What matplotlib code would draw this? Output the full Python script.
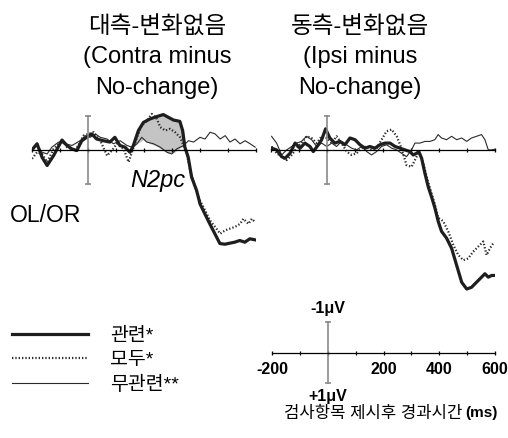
import matplotlib.pyplot as plt
import numpy as np

plt.rcParams['font.family'] = ['Liberation Sans', 'Noto Sans CJK KR', 'DejaVu Sans']

# 대측-변화없음 (Contra minus No-change), µV, 음전위가 위쪽
t_rel_c = np.array([-200, -182, -164, -146, -123, -93, -75, -58, -40, -22, -5, 13, 31, 55, 78, 96, 114, 132,
                    150, 162, 180, 198, 221, 245, 269, 287, 305, 328, 338, 346, 358, 370, 388, 400, 417,
                    435, 453, 471, 489, 506, 524, 542, 560, 578, 596])
rel_c = np.array([0, -0.18, 0.22, 0.46, 0.17, -0.29, -0.13, -0.03, 0.02, -0.27, -0.37, -0.47, -0.32, -0.27,
                  -0.23, -0.37, -0.13, -0.08, 0.07, -0.13, -0.57, -0.81, -0.91, -0.98, -1.04, -0.96, -0.88,
                  -0.84, -0.57, -0.08, 0.22, 0.80, 1.20, 1.59, 1.88, 2.18, 2.47, 2.76, 2.78, 2.75, 2.72,
                  2.67, 2.72, 2.62, 2.65])

t_all_c = np.array([-200, -182, -164, -146, -123, -93, -75, -45, -16, 2, 20, 44, 68, 85, 103, 127, 145, 157,
                    175, 192, 210, 228, 246, 258, 276, 293, 311, 329, 341, 353, 365, 383, 400, 418, 436,
                    454, 472, 490, 507, 525, 543, 555, 573, 585, 597])
all_c = np.array([0.26, 0.07, 0.12, 0.36, -0.03, -0.27, -0.08, 0.02, -0.42, -0.47, -0.52, -0.27, 0.17, 0.02,
                  -0.18, -0.03, 0.36, 0.07, -0.37, -0.72, -0.86, -1.06, -0.91, -0.67, -0.57, -0.62, -0.52,
                  -0.37, -0.13, 0.12, 0.61, 1.10, 1.49, 1.78, 2.08, 2.27, 2.47, 2.37, 2.32, 2.27, 2.18,
                  2.03, 2.18, 2.03, 2.13])

t_irr_c = np.array([-200, -182, -164, -146, -129, -105, -81, -57, -28, -10, 8, 26, 44, 68, 91, 115, 139, 157,
                    175, 192, 210, 234, 258, 282, 299, 317, 341, 359, 377, 400, 418, 436, 454, 472, 490,
                    507, 525, 543, 561, 579, 597])
irr_c = np.array([-0.03, -0.13, 0.07, 0.12, -0.08, -0.23, -0.18, -0.13, -0.27, -0.42, -0.37, -0.47, -0.37,
                  -0.32, -0.18, -0.27, -0.13, -0.08, -0.18, -0.37, -0.23, -0.18, -0.08, 0.07, 0.12, -0.03,
                  -0.13, -0.27, -0.23, -0.37, -0.32, -0.52, -0.47, -0.32, -0.42, -0.23, -0.32, -0.18,
                  -0.27, -0.18, -0.08])

# 동측-변화없음 (Ipsi minus No-change)
t_rel_i = np.array([-198, -180, -162, -150, -132, -114, -96, -79, -61, -49, -31, -19, -5, 10, 28, 46, 64, 82,
                    100, 118, 136, 153, 171, 189, 207, 225, 243, 261, 278, 296, 308, 320, 328, 338, 350,
                    362, 374, 385, 397, 409, 427, 445, 463, 481, 499, 516, 534, 552, 564, 576, 588, 600])
rel_i = np.array([-0.05, 0, 0.20, 0.25, 0.10, -0.20, -0.05, -0.20, -0.10, 0.05, -0.15, -0.30, -0.62, -0.35,
                  -0.20, -0.25, -0.15, -0.35, -0.30, -0.15, -0.05, -0.10, -0.05, -0.15, -0.20, -0.20, -0.10,
                  -0.05, 0, 0.05, 0.15, 0.10, 0.05, 0.25, 0.70, 1.10, 1.40, 1.70, 2.10, 2.40, 2.60, 2.90,
                  3.40, 3.90, 4.10, 4.05, 3.90, 3.75, 3.65, 3.75, 3.70, 3.70])

t_all_i = np.array([-198, -180, -162, -144, -126, -108, -91, -73, -55, -37, -19, -1, 17, 34, 52, 70, 88, 106,
                    124, 142, 159, 177, 195, 213, 231, 249, 266, 284, 302, 314, 326, 338, 356, 374, 385,
                    397, 415, 433, 451, 469, 487, 504, 522, 534, 546, 558, 570, 582, 594])
all_i = np.array([-0.10, 0.10, 0.20, 0.30, 0.15, -0.05, -0.20, -0.40, -0.35, -0.20, -0.40, -0.35, -0.20,
                  -0.40, -0.20, 0.05, 0.15, 0.10, -0.05, -0.10, 0, -0.05, -0.30, -0.55, -0.60, -0.40, -0.05,
                  0.45, 0.50, 0.30, 0.10, 0.20, 0.80, 1.30, 1.60, 2.00, 2.10, 2.40, 2.80, 3.10, 3.25, 3.20,
                  3.00, 2.90, 2.80, 2.70, 3.10, 2.90, 2.75])

t_irr_i = np.array([-198, -180, -162, -144, -126, -108, -91, -73, -55, -37, -19, -1, 17, 34, 52, 70, 88, 106,
                    124, 142, 159, 177, 195, 213, 231, 249, 266, 284, 302, 314, 332, 350, 368, 385, 397,
                    409, 427, 445, 463, 481, 499, 516, 534, 552, 564, 576, 588, 600])
irr_i = np.array([-0.40, -0.20, 0.15, 0, -0.10, -0.20, -0.25, -0.40, -0.30, -0.10, -0.20, -0.10, -0.20,
                  -0.10, -0.25, -0.15, -0.05, 0, -0.10, 0.05, 0.15, 0.05, -0.10, -0.15, -0.05, 0, 0.10,
                  0.20, 0, -0.20, -0.20, -0.25, -0.25, -0.30, -0.45, -0.35, -0.30, -0.40, -0.30, -0.35,
                  -0.25, -0.35, -0.40, -0.45, -0.30, 0, 0, -0.02])

n2pc_window = (150, 350)
legend_labels = ['관련*', '모두*', '무관련**']
x_ticks = np.arange(-200, 601, 100)
x_ticklabels = ['-200', '', '', '', '200', '', '400', '', '600']

W, H = 508, 438
fig = plt.figure(figsize=(W / 100, H / 100), dpi=100)


def px_rect(left, top, right, bottom):
    return [left / W, 1 - bottom / H, (right - left) / W, (bottom - top) / H]


def ftext(x, y, s, **kw):
    fig.text(x / W, 1 - y / H, s, **kw)


def style_axes(ax, ylim):
    ax.set_xlim(-200, 600)
    ax.set_ylim(*ylim)
    ax.patch.set_alpha(0)
    for side in ('top', 'right'):
        ax.spines[side].set_visible(False)
    ax.spines['bottom'].set_position(('data', 0))
    ax.spines['bottom'].set_linewidth(0.9)
    ax.spines['left'].set_position(('data', 0))
    ax.spines['left'].set_bounds(-1, 1)
    ax.spines['left'].set_color('#8a8a8a')
    ax.spines['left'].set_linewidth(1.2)
    ax.set_xticks(x_ticks)
    ax.set_yticks([-1, 1])
    ax.set_yticklabels([])
    ax.tick_params(axis='x', direction='inout', length=3.5, width=0.9)
    ax.tick_params(axis='y', direction='inout', length=5, width=1.2, color='#8a8a8a')


erp_ylim = (4.6, -2.0)  # 음전위 위쪽
ax_c = fig.add_axes(px_rect(32, 82, 256, 306))
ax_i = fig.add_axes(px_rect(271, 82, 495, 306))

handles = None
for ax, (tr, r), (ta, a), (ti, irr) in [
        (ax_c, (t_rel_c, rel_c), (t_all_c, all_c), (t_irr_c, irr_c)),
        (ax_i, (t_rel_i, rel_i), (t_all_i, all_i), (t_irr_i, irr_i))]:
    style_axes(ax, erp_ylim)
    ax.set_xticklabels([])
    h3, = ax.plot(ti, irr, color='#2b2b2b', lw=0.8)
    h2, = ax.plot(ta, a, color='#2b2b2b', lw=1.6, ls=(0, (0.6, 0.9)))
    h1, = ax.plot(tr, r, color='#1e1e1e', lw=2.3)
    if handles is None:
        handles = [h1, h2, h3]

# N2pc 구간 음영
m = (t_rel_c >= n2pc_window[0]) & (t_rel_c <= n2pc_window[1])
irr_on_rel = np.interp(t_rel_c[m], t_irr_c, irr_c)
ax_c.fill_between(t_rel_c[m], rel_c[m], irr_on_rel, where=rel_c[m] < irr_on_rel,
                  interpolate=True, color='#c4c4c4', zorder=0.5)

# 눈금 축
ax_s = fig.add_axes(px_rect(272, 303, 495, 402))
style_axes(ax_s, (1.6, -1.6))
ax_s.set_xticklabels(x_ticklabels, fontweight='bold', fontsize=11.5)
ax_s.tick_params(axis='x', pad=5)
ax_s.annotate('-1μV', (0, -1), xytext=(0, 4), textcoords='offset points', ha='center', va='bottom',
              fontsize=11.5, fontweight='bold')
ax_s.annotate('+1μV', (0, 1), xytext=(0, -4), textcoords='offset points', ha='center', va='top',
              fontsize=11.5, fontweight='bold')

# 제목
for cx, lines in [(157, ['대측-변화없음', '(Contra minus', 'No-change)']),
                  (360, ['동측-변화없음', '(Ipsi minus', 'No-change)'])]:
    for y, s in zip([33, 63, 94], lines):
        ftext(cx, y, s, ha='center', va='baseline', fontsize=17)

ftext(158, 187, 'N2pc', ha='center', va='baseline', fontsize=17, style='italic')
ftext(10, 222, 'OL/OR', ha='left', va='baseline', fontsize=16.5)

ftext(462, 413, '검사항목 제시후 경과시간', ha='right', va='center', fontsize=12)
ftext(465, 413, '(ms)', ha='left', va='center', fontsize=11, fontweight='bold')

fig.legend(handles, legend_labels, loc='upper left', bbox_to_anchor=(12 / W, 1 - 327 / H),
           frameon=False, fontsize=14, handlelength=3.9, handletextpad=1.15,
           labelspacing=0.36, borderpad=0, borderaxespad=0)

fig.savefig('out.png', dpi=100)
